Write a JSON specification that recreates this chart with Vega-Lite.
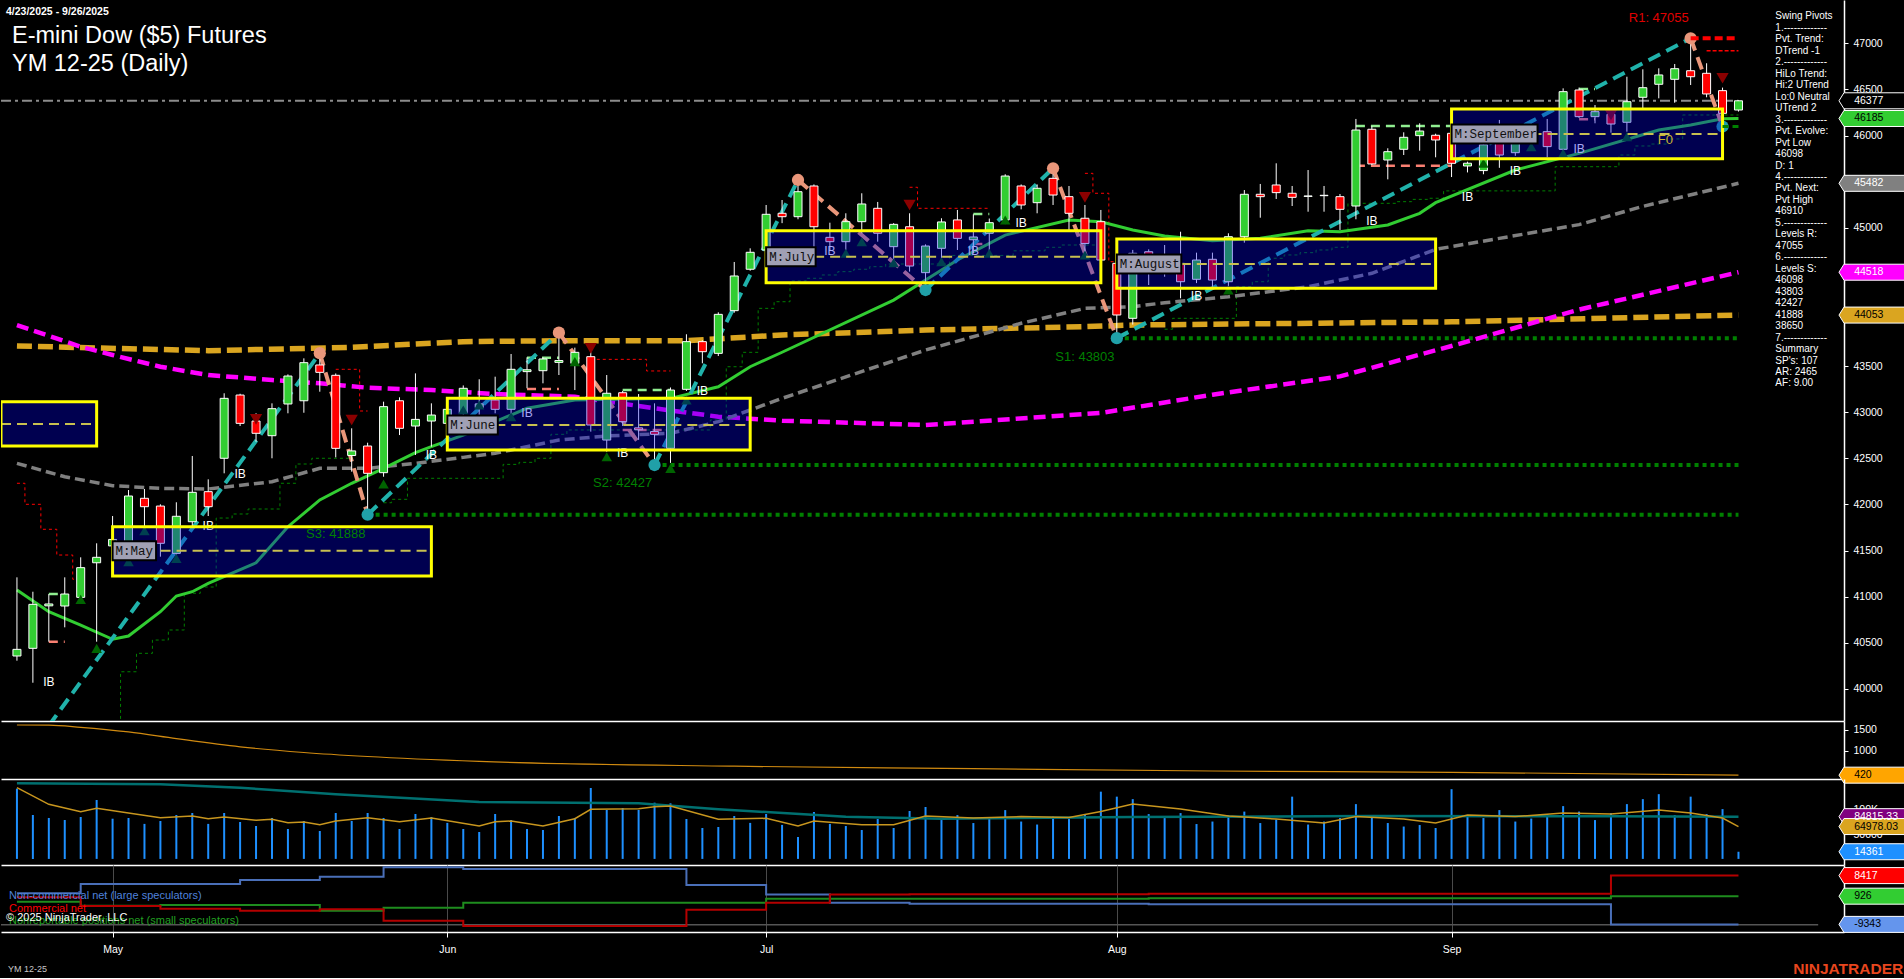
{
"$schema": "https://vega.github.io/schema/vega-lite/v6.json",
"background": "#000000",
"padding": 0,
"spacing": 0,
"bounds": "flush",
"resolve": {"scale": {"color": "independent", "fill": "independent", "shape": "independent", "stroke": "independent"}},
"config": {
  "view": {"stroke": null},
  "legend": {"disable": true},
  "axis": {"labelFont": "Liberation Sans", "zindex": 0, "grid": false},
  "text": {"font": "Liberation Sans"}
},
"datasets": {
  "candles": [
    {"d":"2025-04-23","o":40356,"h":41209,"l":40305,"c":40428,"v":141000},
    {"d":"2025-04-24","o":40439,"h":41053,"l":40066,"c":40916,"v":88200},
    {"d":"2025-04-25","o":40900,"h":41028,"l":40511,"c":40920,"v":82200},
    {"d":"2025-04-28","o":40898,"h":41209,"l":40667,"c":41028,"v":78100},
    {"d":"2025-04-29","o":40992,"h":41426,"l":40927,"c":41314,"v":84100},
    {"d":"2025-04-30","o":41367,"h":41578,"l":40511,"c":41426,"v":118300},
    {"d":"2025-05-01","o":41550,"h":41874,"l":41450,"c":41620,"v":80700},
    {"d":"2025-05-02","o":41505,"h":42156,"l":41450,"c":42091,"v":82200},
    {"d":"2025-05-05","o":42066,"h":42167,"l":41758,"c":41975,"v":70300},
    {"d":"2025-05-06","o":41982,"h":42001,"l":41433,"c":41578,"v":76100},
    {"d":"2025-05-07","o":41469,"h":42023,"l":41433,"c":41871,"v":88200},
    {"d":"2025-05-08","o":41812,"h":42525,"l":41758,"c":42131,"v":92200},
    {"d":"2025-05-09","o":42138,"h":42272,"l":41874,"c":41975,"v":70300},
    {"d":"2025-05-12","o":42500,"h":43205,"l":42337,"c":43150,"v":92200},
    {"d":"2025-05-13","o":43186,"h":43200,"l":42850,"c":42879,"v":74100},
    {"d":"2025-05-14","o":42904,"h":42988,"l":42680,"c":42771,"v":66100},
    {"d":"2025-05-15","o":42745,"h":43096,"l":42500,"c":43038,"v":82200},
    {"d":"2025-05-16","o":43089,"h":43410,"l":42988,"c":43392,"v":60000},
    {"d":"2025-05-19","o":43124,"h":43584,"l":42994,"c":43537,"v":76100},
    {"d":"2025-05-20","o":43512,"h":43640,"l":43222,"c":43432,"v":56000},
    {"d":"2025-05-21","o":43400,"h":43420,"l":42510,"c":42608,"v":92200},
    {"d":"2025-05-22","o":42530,"h":42825,"l":42355,"c":42580,"v":76100},
    {"d":"2025-05-23","o":42633,"h":42669,"l":41888,"c":42337,"v":92200},
    {"d":"2025-05-27","o":42344,"h":43114,"l":42300,"c":43060,"v":82200},
    {"d":"2025-05-28","o":43124,"h":43161,"l":42752,"c":42825,"v":60000},
    {"d":"2025-05-29","o":42850,"h":43421,"l":42536,"c":42922,"v":90200},
    {"d":"2025-05-30","o":42904,"h":43096,"l":42626,"c":42969,"v":84100},
    {"d":"2025-06-02","o":42879,"h":43060,"l":42700,"c":43031,"v":72300},
    {"d":"2025-06-03","o":42988,"h":43290,"l":42900,"c":43259,"v":60000},
    {"d":"2025-06-04","o":43050,"h":43357,"l":42950,"c":43090,"v":54000},
    {"d":"2025-06-05","o":43132,"h":43385,"l":42988,"c":43031,"v":90200},
    {"d":"2025-06-06","o":43031,"h":43631,"l":42951,"c":43465,"v":78100},
    {"d":"2025-06-09","o":43440,"h":43595,"l":43259,"c":43460,"v":60000},
    {"d":"2025-06-10","o":43450,"h":43595,"l":43313,"c":43577,"v":58000},
    {"d":"2025-06-11","o":43540,"h":43862,"l":43403,"c":43560,"v":86100},
    {"d":"2025-06-12","o":43530,"h":43700,"l":43240,"c":43649,"v":82200},
    {"d":"2025-06-13","o":43602,"h":43650,"l":42789,"c":42861,"v":142400},
    {"d":"2025-06-16","o":42698,"h":43403,"l":42572,"c":43205,"v":98200},
    {"d":"2025-06-17","o":43211,"h":43230,"l":42850,"c":42897,"v":102200},
    {"d":"2025-06-18","o":42830,"h":43197,"l":42700,"c":42810,"v":98200},
    {"d":"2025-06-20","o":42790,"h":43096,"l":42427,"c":42760,"v":112900},
    {"d":"2025-06-23","o":42608,"h":43268,"l":42450,"c":43240,"v":111600},
    {"d":"2025-06-24","o":43248,"h":43845,"l":43230,"c":43765,"v":80100},
    {"d":"2025-06-25","o":43765,"h":43780,"l":43530,"c":43656,"v":62000},
    {"d":"2025-06-26","o":43638,"h":44083,"l":43609,"c":44061,"v":64100},
    {"d":"2025-06-27","o":44101,"h":44629,"l":44079,"c":44477,"v":86100},
    {"d":"2025-06-30","o":44550,"h":44777,"l":44534,"c":44734,"v":72300},
    {"d":"2025-07-01","o":44759,"h":45247,"l":44700,"c":45146,"v":90200},
    {"d":"2025-07-02","o":45157,"h":45301,"l":45050,"c":45120,"v":68300},
    {"d":"2025-07-03","o":45120,"h":45518,"l":45092,"c":45391,"v":44000},
    {"d":"2025-07-07","o":45453,"h":45470,"l":44740,"c":45011,"v":94200},
    {"d":"2025-07-08","o":44896,"h":45055,"l":44759,"c":44849,"v":70300},
    {"d":"2025-07-09","o":44849,"h":45157,"l":44759,"c":45066,"v":66100},
    {"d":"2025-07-10","o":45066,"h":45374,"l":44940,"c":45258,"v":58000},
    {"d":"2025-07-11","o":45211,"h":45280,"l":44849,"c":44940,"v":80100},
    {"d":"2025-07-14","o":44795,"h":45050,"l":44578,"c":45037,"v":62000},
    {"d":"2025-07-15","o":45011,"h":45157,"l":44524,"c":44585,"v":96200},
    {"d":"2025-07-16","o":44513,"h":44820,"l":44325,"c":44802,"v":104200},
    {"d":"2025-07-17","o":44777,"h":45103,"l":44650,"c":45063,"v":78000},
    {"d":"2025-07-18","o":45085,"h":45193,"l":44759,"c":44885,"v":88000},
    {"d":"2025-07-21","o":44870,"h":45146,"l":44723,"c":44900,"v":72000},
    {"d":"2025-07-22","o":44940,"h":45100,"l":44726,"c":45055,"v":82000},
    {"d":"2025-07-23","o":45085,"h":45580,"l":45040,"c":45561,"v":98000},
    {"d":"2025-07-24","o":45453,"h":45470,"l":45200,"c":45247,"v":75000},
    {"d":"2025-07-25","o":45272,"h":45470,"l":45157,"c":45428,"v":69000},
    {"d":"2025-07-28","o":45536,"h":45645,"l":45247,"c":45355,"v":85000},
    {"d":"2025-07-29","o":45337,"h":45453,"l":44976,"c":45157,"v":80000},
    {"d":"2025-07-30","o":45103,"h":45247,"l":44700,"c":44830,"v":90000},
    {"d":"2025-07-31","o":45066,"h":45193,"l":44550,"c":44650,"v":135000},
    {"d":"2025-08-01","o":44614,"h":44650,"l":43803,"c":44054,"v":125000},
    {"d":"2025-08-04","o":44018,"h":44760,"l":43950,"c":44723,"v":120000},
    {"d":"2025-08-05","o":44740,"h":44766,"l":44379,"c":44650,"v":90000},
    {"d":"2025-08-06","o":44650,"h":44813,"l":44469,"c":44700,"v":82000},
    {"d":"2025-08-07","o":44614,"h":44957,"l":44235,"c":44415,"v":92000},
    {"d":"2025-08-08","o":44441,"h":44730,"l":44400,"c":44650,"v":70000},
    {"d":"2025-08-11","o":44658,"h":44730,"l":44361,"c":44433,"v":75000},
    {"d":"2025-08-12","o":44415,"h":44940,"l":44361,"c":44903,"v":88000},
    {"d":"2025-08-13","o":44903,"h":45409,"l":44838,"c":45363,"v":95000},
    {"d":"2025-08-14","o":45363,"h":45475,"l":45109,"c":45337,"v":72000},
    {"d":"2025-08-15","o":45464,"h":45699,"l":45312,"c":45381,"v":79000},
    {"d":"2025-08-18","o":45374,"h":45453,"l":45236,"c":45330,"v":125000},
    {"d":"2025-08-19","o":45340,"h":45626,"l":45174,"c":45345,"v":69000},
    {"d":"2025-08-20","o":45348,"h":45453,"l":45174,"c":45352,"v":75000},
    {"d":"2025-08-21","o":45337,"h":45366,"l":44976,"c":45200,"v":82000},
    {"d":"2025-08-22","o":45236,"h":46180,"l":45092,"c":46060,"v":110000},
    {"d":"2025-08-25","o":46068,"h":46100,"l":45680,"c":45692,"v":88000},
    {"d":"2025-08-26","o":45735,"h":45862,"l":45525,"c":45825,"v":72000},
    {"d":"2025-08-27","o":45851,"h":46035,"l":45789,"c":45981,"v":65000},
    {"d":"2025-08-28","o":45999,"h":46133,"l":45836,"c":46049,"v":68000},
    {"d":"2025-08-29","o":46003,"h":46020,"l":45764,"c":45952,"v":62000},
    {"d":"2025-09-02","o":46024,"h":46040,"l":45550,"c":45699,"v":140000},
    {"d":"2025-09-03","o":45670,"h":45717,"l":45600,"c":45700,"v":88000},
    {"d":"2025-09-04","o":45620,"h":45950,"l":45580,"c":45900,"v":82000},
    {"d":"2025-09-05","o":45970,"h":46169,"l":45650,"c":45789,"v":98000},
    {"d":"2025-09-08","o":45814,"h":45980,"l":45780,"c":45952,"v":75000},
    {"d":"2025-09-09","o":45933,"h":46130,"l":45900,"c":46112,"v":81000},
    {"d":"2025-09-10","o":46042,"h":46180,"l":45764,"c":45880,"v":90000},
    {"d":"2025-09-11","o":45851,"h":46512,"l":45830,"c":46476,"v":106000},
    {"d":"2025-09-12","o":46494,"h":46520,"l":46190,"c":46205,"v":95000},
    {"d":"2025-09-15","o":46205,"h":46331,"l":46133,"c":46259,"v":78000},
    {"d":"2025-09-16","o":46230,"h":46290,"l":46031,"c":46125,"v":92000},
    {"d":"2025-09-17","o":46144,"h":46638,"l":46042,"c":46367,"v":110000},
    {"d":"2025-09-18","o":46415,"h":46718,"l":46295,"c":46519,"v":120000},
    {"d":"2025-09-19","o":46556,"h":46729,"l":46404,"c":46657,"v":130000},
    {"d":"2025-09-22","o":46610,"h":46776,"l":46356,"c":46725,"v":88000},
    {"d":"2025-09-23","o":46703,"h":47055,"l":46548,"c":46638,"v":125000},
    {"d":"2025-09-24","o":46675,"h":46784,"l":46415,"c":46451,"v":90000},
    {"d":"2025-09-25","o":46487,"h":46520,"l":46098,"c":46241,"v":100000},
    {"d":"2025-09-26","o":46277,"h":46380,"l":46260,"c":46377,"v":14361}
  ],
  "ma": [
    {"m":"g","d":"2025-04-23","v":41071},{"m":"g","d":"2025-04-25","v":40836},{"m":"g","d":"2025-04-29","v":40692},{"m":"g","d":"2025-05-01","v":40537},{"m":"g","d":"2025-05-02","v":40573},{"m":"g","d":"2025-05-06","v":40836},{"m":"g","d":"2025-05-07","v":41006},{"m":"g","d":"2025-05-08","v":41053},{"m":"g","d":"2025-05-09","v":41144},{"m":"g","d":"2025-05-14","v":41367},{"m":"g","d":"2025-05-16","v":41758},{"m":"g","d":"2025-05-20","v":42048},{"m":"g","d":"2025-05-22","v":42229},{"m":"g","d":"2025-05-27","v":42391},{"m":"g","d":"2025-05-29","v":42561},{"m":"g","d":"2025-05-30","v":42626},{"m":"g","d":"2025-06-03","v":42752},{"m":"g","d":"2025-06-09","v":43042},{"m":"g","d":"2025-06-12","v":43132},{"m":"g","d":"2025-06-23","v":43150},{"m":"g","d":"2025-06-26","v":43276},{"m":"g","d":"2025-06-30","v":43493},{"m":"g","d":"2025-07-02","v":43650},{"m":"g","d":"2025-07-14","v":44216},{"m":"g","d":"2025-07-18","v":44650},{"m":"g","d":"2025-07-23","v":44921},{"m":"g","d":"2025-07-29","v":45084},{"m":"g","d":"2025-07-31","v":45066},{"m":"g","d":"2025-08-04","v":44976},{"m":"g","d":"2025-08-06","v":44911},{"m":"g","d":"2025-08-11","v":44860},{"m":"g","d":"2025-08-14","v":44886},{"m":"g","d":"2025-08-19","v":44968},{"m":"g","d":"2025-08-21","v":44957},{"m":"g","d":"2025-08-26","v":45030},{"m":"g","d":"2025-08-28","v":45157},{"m":"g","d":"2025-08-29","v":45272},{"m":"g","d":"2025-09-08","v":45626},{"m":"g","d":"2025-09-12","v":45807},{"m":"g","d":"2025-09-19","v":46060},{"m":"g","d":"2025-09-23","v":46114},{"m":"g","d":"2025-09-25","v":46183},{"m":"g","d":"2025-09-26","v":46185},
    {"m":"s","d":"2025-04-23","v":42445},{"m":"s","d":"2025-04-28","v":42300},{"m":"s","d":"2025-05-01","v":42203},{"m":"s","d":"2025-05-06","v":42174},{"m":"s","d":"2025-05-09","v":42167},{"m":"s","d":"2025-05-15","v":42246},{"m":"s","d":"2025-05-20","v":42391},{"m":"s","d":"2025-05-23","v":42391},{"m":"s","d":"2025-05-29","v":42445},{"m":"s","d":"2025-06-03","v":42510},{"m":"s","d":"2025-06-05","v":42554},{"m":"s","d":"2025-06-11","v":42698},{"m":"s","d":"2025-06-16","v":42742},{"m":"s","d":"2025-06-23","v":42771},{"m":"s","d":"2025-06-26","v":42897},{"m":"s","d":"2025-07-02","v":43150},{"m":"s","d":"2025-07-16","v":43674},{"m":"s","d":"2025-07-24","v":43964},{"m":"s","d":"2025-07-30","v":44126},{"m":"s","d":"2025-08-04","v":44144},{"m":"s","d":"2025-08-06","v":44187},{"m":"s","d":"2025-08-12","v":44252},{"m":"s","d":"2025-08-19","v":44361},{"m":"s","d":"2025-08-25","v":44506},{"m":"s","d":"2025-08-29","v":44766},{"m":"s","d":"2025-09-12","v":45034},{"m":"s","d":"2025-09-18","v":45232},{"m":"s","d":"2025-09-26","v":45482},
    {"m":"m","d":"2025-04-23","v":43945},{"m":"m","d":"2025-04-29","v":43710},{"m":"m","d":"2025-05-01","v":43620},{"m":"m","d":"2025-05-06","v":43493},{"m":"m","d":"2025-05-09","v":43403},{"m":"m","d":"2025-05-15","v":43349},{"m":"m","d":"2025-05-20","v":43313},{"m":"m","d":"2025-05-23","v":43265},{"m":"m","d":"2025-05-30","v":43240},{"m":"m","d":"2025-06-05","v":43197},{"m":"m","d":"2025-06-12","v":43168},{"m":"m","d":"2025-06-20","v":43042},{"m":"m","d":"2025-06-26","v":42951},{"m":"m","d":"2025-07-02","v":42908},{"m":"m","d":"2025-07-16","v":42861},{"m":"m","d":"2025-07-31","v":42992},{"m":"m","d":"2025-08-11","v":43190},{"m":"m","d":"2025-08-21","v":43388},{"m":"m","d":"2025-09-02","v":43718},{"m":"m","d":"2025-09-12","v":44112},{"m":"m","d":"2025-09-26","v":44518},
    {"m":"o","d":"2025-04-23","v":43718},{"m":"o","d":"2025-05-09","v":43667},{"m":"o","d":"2025-05-22","v":43704},{"m":"o","d":"2025-06-03","v":43765},{"m":"o","d":"2025-06-11","v":43775},{"m":"o","d":"2025-06-24","v":43775},{"m":"o","d":"2025-07-02","v":43837},{"m":"o","d":"2025-07-16","v":43891},{"m":"o","d":"2025-07-30","v":43927},{"m":"o","d":"2025-08-04","v":43945},{"m":"o","d":"2025-09-02","v":43980},{"m":"o","d":"2025-09-26","v":44053}
  ],
  "zig": [
    {"seg":1,"dir":"up","d":"2025-04-25","p":39600},{"seg":1,"dir":"up","d":"2025-05-20","p":43640},
    {"seg":2,"dir":"down","d":"2025-05-20","p":43640},{"seg":2,"dir":"down","d":"2025-05-23","p":41888},
    {"seg":3,"dir":"up","d":"2025-05-23","p":41888},{"seg":3,"dir":"up","d":"2025-06-11","p":43862},
    {"seg":4,"dir":"down","d":"2025-06-11","p":43862},{"seg":4,"dir":"down","d":"2025-06-20","p":42427},
    {"seg":5,"dir":"up","d":"2025-06-20","p":42427},{"seg":5,"dir":"up","d":"2025-07-03","p":45518},
    {"seg":6,"dir":"down","d":"2025-07-03","p":45518},{"seg":6,"dir":"down","d":"2025-07-16","p":44325},
    {"seg":7,"dir":"up","d":"2025-07-16","p":44325},{"seg":7,"dir":"up","d":"2025-07-28","p":45645},
    {"seg":8,"dir":"down","d":"2025-07-28","p":45645},{"seg":8,"dir":"down","d":"2025-08-01","p":43803},
    {"seg":9,"dir":"up","d":"2025-08-01","p":43803},{"seg":9,"dir":"up","d":"2025-09-23","p":47055},
    {"seg":10,"dir":"down","d":"2025-09-23","p":47055},{"seg":10,"dir":"down","d":"2025-09-25","p":46098}
  ],
  "pivots": [
    {"t":"high","d":"2025-05-20","p":43640},{"t":"high","d":"2025-06-11","p":43862},{"t":"high","d":"2025-07-03","p":45518},{"t":"high","d":"2025-07-28","p":45645},{"t":"high","d":"2025-09-23","p":47055},
    {"t":"low","d":"2025-05-23","p":41888},{"t":"low","d":"2025-06-20","p":42427},{"t":"low","d":"2025-07-16","p":44325},{"t":"low","d":"2025-08-01","p":43803},{"t":"low","d":"2025-09-25","p":46098}
  ],
  "tri": [
    {"t":"down","d":"2025-05-14","p":42922},{"t":"down","d":"2025-05-22","p":42915},{"t":"down","d":"2025-06-13","p":43692},{"t":"down","d":"2025-07-15","p":45247},{"t":"down","d":"2025-07-30","p":45330},{"t":"down","d":"2025-09-16","p":46223},{"t":"down","d":"2025-09-25","p":46621},
    {"t":"up","d":"2025-04-29","p":40970},{"t":"up","d":"2025-04-30","p":40439},{"t":"up","d":"2025-05-02","p":41379},{"t":"up","d":"2025-05-05","p":41715},{"t":"up","d":"2025-05-07","p":41415},{"t":"up","d":"2025-05-27","p":42221},{"t":"up","d":"2025-06-03","p":43024},{"t":"up","d":"2025-06-04","p":43078},{"t":"up","d":"2025-06-06","p":42951},{"t":"up","d":"2025-06-12","p":43548},{"t":"up","d":"2025-06-16","p":42517},{"t":"up","d":"2025-06-23","p":42391},{"t":"up","d":"2025-06-24","p":43132},{"t":"up","d":"2025-07-09","p":44723},{"t":"up","d":"2025-07-10","p":44849},{"t":"up","d":"2025-07-14","p":44621},{"t":"up","d":"2025-07-17","p":44632},{"t":"up","d":"2025-07-22","p":44723},{"t":"up","d":"2025-07-23","p":45084},{"t":"up","d":"2025-07-30","p":44705},{"t":"up","d":"2025-08-12","p":44325},{"t":"up","d":"2025-09-04","p":45699},{"t":"up","d":"2025-09-09","p":45879},{"t":"up","d":"2025-09-11","p":45807},{"t":"up","d":"2025-09-17","p":45988}
  ],
  "boxes": [
    {"d":"2025-04-22","d2":"2025-04-30","lo":42633,"hi":43114,"mid":42872,"label":null},
    {"d":"2025-05-01","d2":"2025-05-30","lo":41223,"hi":41758,"mid":41498,"label":"M:May"},
    {"d":"2025-06-02","d2":"2025-06-30","lo":42590,"hi":43150,"mid":42861,"label":"M:June"},
    {"d":"2025-07-01","d2":"2025-07-31","lo":44404,"hi":44968,"mid":44686,"label":"M:July"},
    {"d":"2025-08-01","d2":"2025-08-29","lo":44343,"hi":44878,"mid":44607,"label":"M:August"},
    {"d":"2025-09-02","d2":"2025-09-25","lo":45749,"hi":46288,"mid":46017,"label":"M:September"}
  ],
  "rng": [
    {"d":"2025-04-25","d2":"2025-04-28","hi":41028,"lo":40511},
    {"d":"2025-06-09","d2":"2025-06-11","hi":43591,"lo":43251},
    {"d":"2025-06-17","d2":"2025-06-23","hi":43240,"lo":42807},
    {"d":"2025-07-21","d2":"2025-07-22","hi":45149,"lo":44824},
    {"d":"2025-08-22","d2":"2025-09-02","hi":46104,"lo":45673},
    {"d":"2025-09-12","d2":"2025-09-15","hi":46505,"lo":46176}
  ],
  "steps": [
    {"k":"sup","seg":1,"d":"2025-05-01","p":39500},{"k":"sup","seg":1,"d":"2025-05-02","p":40185},{"k":"sup","seg":1,"d":"2025-05-05","p":40385},{"k":"sup","seg":1,"d":"2025-05-06","p":40529},{"k":"sup","seg":1,"d":"2025-05-07","p":40638},{"k":"sup","seg":1,"d":"2025-05-08","p":41036},{"k":"sup","seg":1,"d":"2025-05-09","p":41104},{"k":"sup","seg":1,"d":"2025-05-12","p":41852},{"k":"sup","seg":1,"d":"2025-05-13","p":41896},{"k":"sup","seg":1,"d":"2025-05-14","p":41950},{"k":"sup","seg":1,"d":"2025-05-15","p":41950},{"k":"sup","seg":1,"d":"2025-05-16","p":42229},{"k":"sup","seg":1,"d":"2025-05-19","p":42438},{"k":"sup","seg":1,"d":"2025-05-20","p":42500},{"k":"sup","seg":1,"d":"2025-05-21","p":42500},{"k":"sup","seg":1,"d":"2025-05-22","p":42500},
    {"k":"sup","seg":2,"d":"2025-05-27","p":42018},{"k":"sup","seg":2,"d":"2025-05-28","p":42055},{"k":"sup","seg":2,"d":"2025-05-29","p":42283},{"k":"sup","seg":2,"d":"2025-06-05","p":42283},{"k":"sup","seg":2,"d":"2025-06-06","p":42434},{"k":"sup","seg":2,"d":"2025-06-09","p":42456},{"k":"sup","seg":2,"d":"2025-06-10","p":42500},{"k":"sup","seg":2,"d":"2025-06-11","p":42760},{"k":"sup","seg":2,"d":"2025-06-12","p":42807},{"k":"sup","seg":2,"d":"2025-06-25","p":42807},{"k":"sup","seg":2,"d":"2025-06-26","p":42915},{"k":"sup","seg":2,"d":"2025-06-27","p":43493},{"k":"sup","seg":2,"d":"2025-06-30","p":43649},{"k":"sup","seg":2,"d":"2025-07-01","p":44126},{"k":"sup","seg":2,"d":"2025-07-02","p":44198},{"k":"sup","seg":2,"d":"2025-07-03","p":44423},{"k":"sup","seg":2,"d":"2025-07-07","p":44452},{"k":"sup","seg":2,"d":"2025-07-08","p":44488},{"k":"sup","seg":2,"d":"2025-07-09","p":44524},{"k":"sup","seg":2,"d":"2025-07-10","p":44550},{"k":"sup","seg":2,"d":"2025-07-11","p":44578},{"k":"sup","seg":2,"d":"2025-07-14","p":44607},{"k":"sup","seg":2,"d":"2025-07-17","p":44607},{"k":"sup","seg":2,"d":"2025-07-18","p":44700},{"k":"sup","seg":2,"d":"2025-07-23","p":44700},{"k":"sup","seg":2,"d":"2025-07-24","p":44750},{"k":"sup","seg":2,"d":"2025-07-25","p":44750},{"k":"sup","seg":2,"d":"2025-07-28","p":44788},{"k":"sup","seg":2,"d":"2025-07-29","p":44813},{"k":"sup","seg":2,"d":"2025-07-31","p":44813},
    {"k":"sup","seg":3,"d":"2025-08-06","p":43900},{"k":"sup","seg":3,"d":"2025-08-07","p":44018},{"k":"sup","seg":3,"d":"2025-08-12","p":44018},{"k":"sup","seg":3,"d":"2025-08-13","p":44361},{"k":"sup","seg":3,"d":"2025-08-14","p":44415},{"k":"sup","seg":3,"d":"2025-08-15","p":44669},{"k":"sup","seg":3,"d":"2025-08-18","p":44705},{"k":"sup","seg":3,"d":"2025-08-19","p":44730},{"k":"sup","seg":3,"d":"2025-08-20","p":44759},{"k":"sup","seg":3,"d":"2025-08-21","p":44788},{"k":"sup","seg":3,"d":"2025-08-22","p":45265},{"k":"sup","seg":3,"d":"2025-08-26","p":45265},{"k":"sup","seg":3,"d":"2025-08-27","p":45283},{"k":"sup","seg":3,"d":"2025-08-28","p":45308},{"k":"sup","seg":3,"d":"2025-08-29","p":45320},{"k":"sup","seg":3,"d":"2025-09-02","p":45400},{"k":"sup","seg":3,"d":"2025-09-10","p":45400},{"k":"sup","seg":3,"d":"2025-09-11","p":45662},{"k":"sup","seg":3,"d":"2025-09-16","p":45662},{"k":"sup","seg":3,"d":"2025-09-17","p":45789},{"k":"sup","seg":3,"d":"2025-09-18","p":45887},{"k":"sup","seg":3,"d":"2025-09-19","p":45908},{"k":"sup","seg":3,"d":"2025-09-22","p":45963},{"k":"sup","seg":3,"d":"2025-09-23","p":46223},{"k":"sup","seg":3,"d":"2025-09-26","p":46223},
    {"k":"res","seg":4,"d":"2025-04-23","p":42229},{"k":"res","seg":4,"d":"2025-04-24","p":42001},{"k":"res","seg":4,"d":"2025-04-25","p":41730},{"k":"res","seg":4,"d":"2025-04-28","p":41451},{"k":"res","seg":4,"d":"2025-04-29","p":41188},
    {"k":"res","seg":5,"d":"2025-05-21","p":43465},{"k":"res","seg":5,"d":"2025-05-22","p":43465},{"k":"res","seg":5,"d":"2025-05-23","p":43013},
    {"k":"res","seg":6,"d":"2025-06-13","p":43573},{"k":"res","seg":6,"d":"2025-06-18","p":43573},{"k":"res","seg":6,"d":"2025-06-20","p":43447},{"k":"res","seg":6,"d":"2025-06-23","p":43447},
    {"k":"res","seg":7,"d":"2025-07-15","p":45439},{"k":"res","seg":7,"d":"2025-07-16","p":45211},{"k":"res","seg":7,"d":"2025-07-22","p":45211},
    {"k":"res","seg":8,"d":"2025-07-30","p":45590},{"k":"res","seg":8,"d":"2025-07-31","p":45374},{"k":"res","seg":8,"d":"2025-08-01","p":44632}
  ],
  "levels": [
    {"k":"S","d":"2025-08-01","d2":"2025-09-26","p":43803},
    {"k":"S","d":"2025-06-20","d2":"2025-09-26","p":42427},
    {"k":"S","d":"2025-05-23","d2":"2025-09-26","p":41888},
    {"k":"R1","d":"2025-09-23","d2":"2025-09-26","p":47055},
    {"k":"Rn","d":"2025-09-24","d2":"2025-09-26","p":46920},
    {"k":"Pl","d":"2025-09-25","d2":"2025-09-26","p":46098}
  ],
  "levelText": [
    {"k":"S","d":"2025-07-30","p":43598,"t":"S1: 43803"},
    {"k":"S","d":"2025-06-17","p":42232,"t":"S2: 42427"},
    {"k":"S","d":"2025-05-21","p":41675,"t":"S3: 41888"},
    {"k":"R","d":"2025-09-19","p":47275,"t":"R1: 47055"}
  ],
  "ib": [
    {"d":"2025-04-25","p":40069},{"d":"2025-05-09","p":41765},{"d":"2025-05-13","p":42334},{"d":"2025-05-30","p":42531},{"d":"2025-06-09","p":42992},{"d":"2025-06-17","p":42558},{"d":"2025-06-25","p":43230},{"d":"2025-07-08","p":44744},{"d":"2025-07-21","p":44744},{"d":"2025-07-24","p":45047},{"d":"2025-08-08","p":44257},{"d":"2025-08-25","p":45073},{"d":"2025-09-03","p":45337},{"d":"2025-09-08","p":45613},{"d":"2025-09-12","p":45850}
  ],
  "osc": [
    {"d":"2025-04-23","v":1614},{"d":"2025-04-25","v":1612},{"d":"2025-04-29","v":1560},{"d":"2025-05-02","v":1450},{"d":"2025-05-07","v":1290},{"d":"2025-05-13","v":1095},{"d":"2025-05-19","v":960},{"d":"2025-05-23","v":864},{"d":"2025-06-04","v":748},{"d":"2025-06-27","v":633},{"d":"2025-07-21","v":576},{"d":"2025-08-11","v":519},{"d":"2025-09-02","v":488},{"d":"2025-09-26","v":420}
  ],
  "volLines": [
    {"s":"L","d":"2025-04-23","v":151800},{"s":"L","d":"2025-05-06","v":149800},{"s":"L","d":"2025-05-13","v":143000},{"s":"L","d":"2025-05-21","v":129700},{"s":"L","d":"2025-06-04","v":114300},{"s":"L","d":"2025-06-18","v":111600},{"s":"L","d":"2025-06-26","v":99600},{"s":"L","d":"2025-07-09","v":84700},{"s":"L","d":"2025-07-17","v":80700},{"s":"L","d":"2025-08-04","v":84000},{"s":"L","d":"2025-08-25","v":86000},{"s":"L","d":"2025-09-16","v":85500},{"s":"L","d":"2025-09-26","v":84815},
    {"s":"S","d":"2025-04-23","v":143000},{"s":"S","d":"2025-04-25","v":109600},{"s":"S","d":"2025-04-29","v":94800},{"s":"S","d":"2025-04-30","v":101600},{"s":"S","d":"2025-05-06","v":82700},{"s":"S","d":"2025-05-08","v":86100},{"s":"S","d":"2025-05-09","v":80700},{"s":"S","d":"2025-05-12","v":84100},{"s":"S","d":"2025-05-14","v":77500},{"s":"S","d":"2025-05-15","v":79500},{"s":"S","d":"2025-05-16","v":72700},{"s":"S","d":"2025-05-19","v":74100},{"s":"S","d":"2025-05-20","v":68700},{"s":"S","d":"2025-05-21","v":76100},{"s":"S","d":"2025-05-23","v":82700},{"s":"S","d":"2025-05-28","v":74700},{"s":"S","d":"2025-05-30","v":82100},{"s":"S","d":"2025-06-04","v":66100},{"s":"S","d":"2025-06-05","v":74700},{"s":"S","d":"2025-06-06","v":76100},{"s":"S","d":"2025-06-10","v":66100},{"s":"S","d":"2025-06-12","v":80700},{"s":"S","d":"2025-06-13","v":99600},{"s":"S","d":"2025-06-18","v":100800},{"s":"S","d":"2025-06-20","v":104800},{"s":"S","d":"2025-06-23","v":106200},{"s":"S","d":"2025-06-26","v":79500},{"s":"S","d":"2025-07-01","v":81500},{"s":"S","d":"2025-07-03","v":66100},{"s":"S","d":"2025-07-07","v":76100},{"s":"S","d":"2025-07-10","v":68700},{"s":"S","d":"2025-07-14","v":68700},{"s":"S","d":"2025-07-16","v":86100},{"s":"S","d":"2025-07-21","v":82000},{"s":"S","d":"2025-07-24","v":85000},{"s":"S","d":"2025-07-29","v":83000},{"s":"S","d":"2025-07-31","v":95000},{"s":"S","d":"2025-08-04","v":110000},{"s":"S","d":"2025-08-07","v":100000},{"s":"S","d":"2025-08-12","v":86000},{"s":"S","d":"2025-08-15","v":80000},{"s":"S","d":"2025-08-20","v":72000},{"s":"S","d":"2025-08-22","v":85000},{"s":"S","d":"2025-08-27","v":80000},{"s":"S","d":"2025-08-29","v":72000},{"s":"S","d":"2025-09-03","v":88000},{"s":"S","d":"2025-09-08","v":85000},{"s":"S","d":"2025-09-11","v":92000},{"s":"S","d":"2025-09-16","v":90000},{"s":"S","d":"2025-09-19","v":98000},{"s":"S","d":"2025-09-23","v":92000},{"s":"S","d":"2025-09-25","v":82000},{"s":"S","d":"2025-09-26","v":64978}
  ],
  "cot": [
    {"s":"n","d":"2025-04-23","v":1981},{"s":"n","d":"2025-04-29","v":5362},{"s":"n","d":"2025-05-13","v":6817},{"s":"n","d":"2025-05-20","v":8017},{"s":"n","d":"2025-05-27","v":11435},{"s":"n","d":"2025-06-03","v":10817},{"s":"n","d":"2025-06-24","v":5000},{"s":"n","d":"2025-07-01","v":1500},{"s":"n","d":"2025-07-08","v":-1500},{"s":"n","d":"2025-07-15","v":-1800},{"s":"n","d":"2025-08-05","v":-2000},{"s":"n","d":"2025-09-16","v":-9343},{"s":"n","d":"2025-09-26","v":-9343},
    {"s":"c","d":"2025-04-23","v":526},{"s":"c","d":"2025-04-29","v":-2638},{"s":"c","d":"2025-05-06","v":-3619},{"s":"c","d":"2025-05-13","v":-4347},{"s":"c","d":"2025-05-20","v":-3838},{"s":"c","d":"2025-05-27","v":-7983},{"s":"c","d":"2025-06-03","v":-9910},{"s":"c","d":"2025-06-24","v":-4000},{"s":"c","d":"2025-07-01","v":-1500},{"s":"c","d":"2025-07-08","v":1500},{"s":"c","d":"2025-07-15","v":1600},{"s":"c","d":"2025-08-05","v":1800},{"s":"c","d":"2025-09-16","v":8417},{"s":"c","d":"2025-09-26","v":8417},
    {"s":"r","d":"2025-04-23","v":-1074},{"s":"r","d":"2025-04-29","v":-2529},{"s":"r","d":"2025-05-06","v":-2274},{"s":"r","d":"2025-05-20","v":-4347},{"s":"r","d":"2025-05-27","v":-3257},{"s":"r","d":"2025-06-03","v":-1438},{"s":"r","d":"2025-07-01","v":0},{"s":"r","d":"2025-08-05","v":200},{"s":"r","d":"2025-09-16","v":926},{"s":"r","d":"2025-09-26","v":926}
  ]
},
"vconcat": [
{
  "width": 1843, "height": 721,
  "encoding": {"x": {"field": "d", "type": "ordinal", "title": null, "scale": {"type": "point", "padding": 0.81, "align": 0, "domain": ["2025-04-22","2025-04-23","2025-04-24","2025-04-25","2025-04-28","2025-04-29","2025-04-30","2025-05-01","2025-05-02","2025-05-05","2025-05-06","2025-05-07","2025-05-08","2025-05-09","2025-05-12","2025-05-13","2025-05-14","2025-05-15","2025-05-16","2025-05-19","2025-05-20","2025-05-21","2025-05-22","2025-05-23","2025-05-27","2025-05-28","2025-05-29","2025-05-30","2025-06-02","2025-06-03","2025-06-04","2025-06-05","2025-06-06","2025-06-09","2025-06-10","2025-06-11","2025-06-12","2025-06-13","2025-06-16","2025-06-17","2025-06-18","2025-06-20","2025-06-23","2025-06-24","2025-06-25","2025-06-26","2025-06-27","2025-06-30","2025-07-01","2025-07-02","2025-07-03","2025-07-07","2025-07-08","2025-07-09","2025-07-10","2025-07-11","2025-07-14","2025-07-15","2025-07-16","2025-07-17","2025-07-18","2025-07-21","2025-07-22","2025-07-23","2025-07-24","2025-07-25","2025-07-28","2025-07-29","2025-07-30","2025-07-31","2025-08-01","2025-08-04","2025-08-05","2025-08-06","2025-08-07","2025-08-08","2025-08-11","2025-08-12","2025-08-13","2025-08-14","2025-08-15","2025-08-18","2025-08-19","2025-08-20","2025-08-21","2025-08-22","2025-08-25","2025-08-26","2025-08-27","2025-08-28","2025-08-29","2025-09-02","2025-09-03","2025-09-04","2025-09-05","2025-09-08","2025-09-09","2025-09-10","2025-09-11","2025-09-12","2025-09-15","2025-09-16","2025-09-17","2025-09-18","2025-09-19","2025-09-22","2025-09-23","2025-09-24","2025-09-25","2025-09-26","2025-09-29","2025-09-30","2025-10-01","2025-10-02","2025-10-03"]}, "axis": {"orient": "bottom", "domain": true, "domainColor": "#FFFFFF", "domainWidth": 1.5, "ticks": false, "labels": false, "grid": false, "title": null}}},
  "layer": [
    {"data": {"values": [{"d": "2025-04-22", "d2": "2025-09-26", "p": 46377}]},
     "mark": {"type": "rule", "color": "#8C8C8C", "strokeWidth": 2, "strokeDash": [10, 4, 3, 4]},
     "encoding": {"x2": {"field": "d2"}, "y": {"field": "p", "type": "quantitative", "title": null, "scale": {"domain": [39651, 47470], "nice": false, "zero": false},
       "axis": {"orient": "right", "values": [40000, 40500, 41000, 41500, 42000, 42500, 43000, 43500, 45000, 46000, 46500, 47000], "format": "d", "domain": true, "domainColor": "#FFFFFF", "domainWidth": 1.5, "ticks": true, "tickColor": "#FFFFFF", "tickSize": 4, "labelColor": "#FFFFFF", "labelFontSize": 10.5, "labelPadding": 5, "grid": false, "title": null}}}},
    {"data": {"name": "steps"}, "transform": [{"filter": "datum.k == 'sup'"}],
     "mark": {"type": "line", "interpolate": "step", "color": "#008000", "strokeWidth": 1, "strokeDash": [3, 3], "clip": true},
     "encoding": {"detail": {"field": "seg", "type": "nominal"}, "y": {"field": "p", "type": "quantitative", "title": null, "scale": {"domain": [39651, 47470], "nice": false, "zero": false}}}},
    {"data": {"name": "steps"}, "transform": [{"filter": "datum.k == 'res'"}],
     "mark": {"type": "line", "interpolate": "step", "color": "#FF0000", "strokeWidth": 1, "strokeDash": [3, 3], "clip": true},
     "encoding": {"detail": {"field": "seg", "type": "nominal"}, "y": {"field": "p", "type": "quantitative", "title": null, "scale": {"domain": [39651, 47470], "nice": false, "zero": false}}}},
    {"data": {"name": "rng"},
     "mark": {"type": "rule", "color": "#90EE90", "strokeWidth": 2.5, "strokeDash": [9, 6]},
     "encoding": {"x2": {"field": "d2"}, "y": {"field": "hi", "type": "quantitative", "title": null, "scale": {"domain": [39651, 47470], "nice": false, "zero": false}}}},
    {"data": {"name": "rng"},
     "mark": {"type": "rule", "color": "#FA8072", "strokeWidth": 2.5, "strokeDash": [9, 6]},
     "encoding": {"x2": {"field": "d2"}, "y": {"field": "lo", "type": "quantitative", "title": null, "scale": {"domain": [39651, 47470], "nice": false, "zero": false}}}},
    {"data": {"name": "levels"}, "transform": [{"filter": "datum.k == 'S'"}],
     "mark": {"type": "rule", "color": "#008000", "strokeWidth": 4, "strokeDash": [4, 4]},
     "encoding": {"x2": {"field": "d2"}, "y": {"field": "p", "type": "quantitative", "title": null, "scale": {"domain": [39651, 47470], "nice": false, "zero": false}}}},
    {"data": {"name": "ma"}, "transform": [{"filter": "datum.m == 'o'"}],
     "mark": {"type": "line", "color": "#DAA520", "strokeWidth": 5.5, "strokeDash": [15, 6]},
     "encoding": {"y": {"field": "v", "type": "quantitative", "title": null, "scale": {"domain": [39651, 47470], "nice": false, "zero": false}}}},
    {"data": {"name": "ma"}, "transform": [{"filter": "datum.m == 'm'"}],
     "mark": {"type": "line", "color": "#FF00FF", "strokeWidth": 4.5, "strokeDash": [12, 6]},
     "encoding": {"y": {"field": "v", "type": "quantitative", "title": null, "scale": {"domain": [39651, 47470], "nice": false, "zero": false}}}},
    {"data": {"name": "ma"}, "transform": [{"filter": "datum.m == 's'"}],
     "mark": {"type": "line", "color": "#808080", "strokeWidth": 3.5, "strokeDash": [10, 5]},
     "encoding": {"y": {"field": "v", "type": "quantitative", "title": null, "scale": {"domain": [39651, 47470], "nice": false, "zero": false}}}},
    {"data": {"name": "ma"}, "transform": [{"filter": "datum.m == 'g'"}],
     "mark": {"type": "line", "color": "#32CD32", "strokeWidth": 3},
     "encoding": {"y": {"field": "v", "type": "quantitative", "title": null, "scale": {"domain": [39651, 47470], "nice": false, "zero": false}}}},
    {"data": {"name": "zig"}, "transform": [{"filter": "datum.dir == 'up'"}],
     "mark": {"type": "line", "color": "#20B2AA", "strokeWidth": 4, "strokeDash": [13, 7], "clip": true},
     "encoding": {"detail": {"field": "seg", "type": "nominal"}, "y": {"field": "p", "type": "quantitative", "title": null, "scale": {"domain": [39651, 47470], "nice": false, "zero": false}}}},
    {"data": {"name": "zig"}, "transform": [{"filter": "datum.dir == 'down'"}],
     "mark": {"type": "line", "color": "#E9967A", "strokeWidth": 4, "strokeDash": [13, 7], "clip": true},
     "encoding": {"detail": {"field": "seg", "type": "nominal"}, "y": {"field": "p", "type": "quantitative", "title": null, "scale": {"domain": [39651, 47470], "nice": false, "zero": false}}}},
    {"data": {"name": "candles"},
     "mark": {"type": "rule", "color": "#FFFFFF", "strokeWidth": 1},
     "encoding": {"y": {"field": "h", "type": "quantitative", "title": null, "scale": {"domain": [39651, 47470], "nice": false, "zero": false}}, "y2": {"field": "l"}}},
    {"data": {"name": "candles"},
     "mark": {"type": "bar", "size": 8, "stroke": "#FFFFFF", "strokeWidth": 1},
     "encoding": {"y": {"field": "o", "type": "quantitative", "title": null, "scale": {"domain": [39651, 47470], "nice": false, "zero": false}}, "y2": {"field": "c"},
       "fill": {"condition": {"test": "datum.c >= datum.o", "value": "#32CD32"}, "value": "#FF0000"}}},
    {"data": {"name": "tri"}, "transform": [{"filter": "datum.t == 'down'"}],
     "mark": {"type": "point", "shape": "triangle-down", "filled": true, "color": "#8B0000", "size": 150, "opacity": 1},
     "encoding": {"y": {"field": "p", "type": "quantitative", "title": null, "scale": {"domain": [39651, 47470], "nice": false, "zero": false}}}},
    {"data": {"name": "tri"}, "transform": [{"filter": "datum.t == 'up'"}],
     "mark": {"type": "point", "shape": "triangle-up", "filled": true, "color": "#006400", "size": 110, "opacity": 1},
     "encoding": {"y": {"field": "p", "type": "quantitative", "title": null, "scale": {"domain": [39651, 47470], "nice": false, "zero": false}}}},
    {"data": {"name": "pivots"}, "transform": [{"filter": "datum.t == 'high'"}],
     "mark": {"type": "circle", "color": "#E9967A", "size": 150, "opacity": 1},
     "encoding": {"y": {"field": "p", "type": "quantitative", "title": null, "scale": {"domain": [39651, 47470], "nice": false, "zero": false}}}},
    {"data": {"name": "pivots"}, "transform": [{"filter": "datum.t == 'low'"}],
     "mark": {"type": "circle", "color": "#20A0A8", "size": 150, "opacity": 1},
     "encoding": {"y": {"field": "p", "type": "quantitative", "title": null, "scale": {"domain": [39651, 47470], "nice": false, "zero": false}}}},
    {"data": {"name": "ib"},
     "mark": {"type": "text", "text": "IB", "color": "#FFFFFF", "fontSize": 12, "baseline": "middle", "align": "center"},
     "encoding": {"y": {"field": "p", "type": "quantitative", "title": null, "scale": {"domain": [39651, 47470], "nice": false, "zero": false}}}},
    {"data": {"name": "boxes"},
     "mark": {"type": "rect", "color": "#0000E6", "opacity": 0.35, "clip": true},
     "encoding": {"x2": {"field": "d2"}, "y": {"field": "lo", "type": "quantitative", "title": null, "scale": {"domain": [39651, 47470], "nice": false, "zero": false}}, "y2": {"field": "hi"}}},
    {"data": {"name": "boxes"},
     "mark": {"type": "rule", "color": "#C8C050", "strokeWidth": 2, "strokeDash": [10, 6], "clip": true},
     "encoding": {"x2": {"field": "d2"}, "y": {"field": "mid", "type": "quantitative", "title": null, "scale": {"domain": [39651, 47470], "nice": false, "zero": false}}}},
    {"data": {"name": "boxes"},
     "mark": {"type": "rect", "filled": false, "stroke": "#FFFF00", "strokeWidth": 3, "clip": true},
     "encoding": {"x2": {"field": "d2"}, "y": {"field": "lo", "type": "quantitative", "title": null, "scale": {"domain": [39651, 47470], "nice": false, "zero": false}}, "y2": {"field": "hi"}}},
    {"data": {"name": "boxes"}, "transform": [{"filter": "datum.label != null"}],
     "mark": {"type": "point", "filled": true, "fill": "#A0A0B4", "stroke": "#000000", "strokeWidth": 2, "size": 400, "opacity": 1},
     "encoding": {"y": {"field": "mid", "type": "quantitative", "title": null, "scale": {"domain": [39651, 47470], "nice": false, "zero": false}},
       "shape": {"field": "label", "type": "nominal", "scale": {"domain": ["M:May", "M:June", "M:July", "M:August", "M:September"], "range": ["M0,-0.95L4.35,-0.95L4.35,0.95L0,0.95Z", "M0,-0.95L5.05,-0.95L5.05,0.95L0,0.95Z", "M0,-0.95L4.95,-0.95L4.95,0.95L0,0.95Z", "M0,-0.95L6.45,-0.95L6.45,0.95L0,0.95Z", "M0,-0.95L8.6,-0.95L8.6,0.95L0,0.95Z"]}}}},
    {"data": {"name": "boxes"}, "transform": [{"filter": "datum.label != null"}],
     "mark": {"type": "text", "font": "Liberation Mono", "fontSize": 12.5, "color": "#101010", "align": "left", "baseline": "middle", "dx": 3},
     "encoding": {"y": {"field": "mid", "type": "quantitative", "title": null, "scale": {"domain": [39651, 47470], "nice": false, "zero": false}}, "text": {"field": "label"}}},
    {"data": {"name": "levels"}, "transform": [{"filter": "datum.k == 'R1'"}],
     "mark": {"type": "rule", "color": "#FF0000", "strokeWidth": 4, "strokeDash": [8, 4]},
     "encoding": {"x2": {"field": "d2"}, "y": {"field": "p", "type": "quantitative", "title": null, "scale": {"domain": [39651, 47470], "nice": false, "zero": false}}}},
    {"data": {"name": "levels"}, "transform": [{"filter": "datum.k == 'Rn'"}],
     "mark": {"type": "rule", "color": "#FF0000", "strokeWidth": 1.5, "strokeDash": [4, 2]},
     "encoding": {"x2": {"field": "d2"}, "y": {"field": "p", "type": "quantitative", "title": null, "scale": {"domain": [39651, 47470], "nice": false, "zero": false}}}},
    {"data": {"name": "levels"}, "transform": [{"filter": "datum.k == 'Pl'"}],
     "mark": {"type": "rule", "color": "#008000", "strokeWidth": 3, "strokeDash": [6, 4]},
     "encoding": {"x2": {"field": "d2"}, "y": {"field": "p", "type": "quantitative", "title": null, "scale": {"domain": [39651, 47470], "nice": false, "zero": false}}}},
    {"data": {"name": "levelText"}, "transform": [{"filter": "datum.k == 'S'"}],
     "mark": {"type": "text", "color": "#008000", "fontSize": 13, "align": "center", "baseline": "middle"},
     "encoding": {"y": {"field": "p", "type": "quantitative", "title": null, "scale": {"domain": [39651, 47470], "nice": false, "zero": false}}, "text": {"field": "t"}}},
    {"data": {"name": "levelText"}, "transform": [{"filter": "datum.k == 'R'"}],
     "mark": {"type": "text", "color": "#E00000", "fontSize": 13, "align": "center", "baseline": "middle"},
     "encoding": {"y": {"field": "p", "type": "quantitative", "title": null, "scale": {"domain": [39651, 47470], "nice": false, "zero": false}}, "text": {"field": "t"}}},
    {"data": {"values": [{"t": "F0"}]},
     "mark": {"type": "text", "color": "#C8B432", "fontSize": 13, "align": "left", "baseline": "middle", "dx": -1},
     "encoding": {"x": {"datum": "2025-09-19", "type": "ordinal", "title": null}, "y": {"datum": 45952, "type": "quantitative", "title": null, "scale": {"domain": [39651, 47470], "nice": false, "zero": false}}, "text": {"field": "t"}}},
    {"data": {"values": [{"t": "4/23/2025 - 9/26/2025"}]},
     "mark": {"type": "text", "color": "#FFFFFF", "fontSize": 10.5, "fontWeight": "bold", "align": "left", "baseline": "middle", "dx": 5},
     "encoding": {"x": {"datum": "2025-04-22", "type": "ordinal", "title": null}, "y": {"datum": 47337, "type": "quantitative", "title": null, "scale": {"domain": [39651, 47470], "nice": false, "zero": false}}, "text": {"field": "t"}}},
    {"data": {"values": [{"t": "E-mini Dow ($5) Futures"}]},
     "mark": {"type": "text", "color": "#FFFFFF", "fontSize": 23.5, "align": "left", "baseline": "middle", "dx": 11},
     "encoding": {"x": {"datum": "2025-04-22", "type": "ordinal", "title": null}, "y": {"datum": 47075, "type": "quantitative", "title": null, "scale": {"domain": [39651, 47470], "nice": false, "zero": false}}, "text": {"field": "t"}}},
    {"data": {"values": [{"t": "YM 12-25 (Daily)"}]},
     "mark": {"type": "text", "color": "#FFFFFF", "fontSize": 23.5, "align": "left", "baseline": "middle", "dx": 11},
     "encoding": {"x": {"datum": "2025-04-22", "type": "ordinal", "title": null}, "y": {"datum": 46772, "type": "quantitative", "title": null, "scale": {"domain": [39651, 47470], "nice": false, "zero": false}}, "text": {"field": "t"}}},
    {"data": {"values": [{"t": "Swing Pivots\n1.-------------\nPvt. Trend:\nDTrend -1\n2.-------------\nHiLo Trend:\nHi:2 UTrend\nLo:0 Neutral\nUTrend 2\n3.-------------\nPvt. Evolve:\nPvt Low\n46098\nD: 1\n4.-------------\nPvt. Next:\nPvt High\n46910\n5.-------------\nLevels R:\n47055\n6.-------------\nLevels S:\n46098\n43803\n42427\n41888\n38650\n7.-------------\nSummary\nSP's: 107\nAR: 2465\nAF: 9.00"}]},
     "mark": {"type": "text", "color": "#FFFFFF", "fontSize": 10, "align": "left", "baseline": "top", "lineBreak": "\n", "lineHeight": 11.47, "dx": 5},
     "encoding": {"x": {"datum": "2025-09-30", "type": "ordinal", "title": null}, "y": {"datum": 47346, "type": "quantitative", "title": null, "scale": {"domain": [39651, 47470], "nice": false, "zero": false}}, "text": {"field": "t"}}},
    {"data": {"values": [{"n": "last", "v": 46377, "t": "46377"}, {"n": "g", "v": 46185, "t": "46185"}, {"n": "s", "v": 45482, "t": "45482"}, {"n": "m", "v": 44518, "t": "44518"}, {"n": "o", "v": 44053, "t": "44053"}]},
     "mark": {"type": "point", "shape": "M1.04,0L1.29,-0.4L4.34,-0.4L4.34,0.4L1.29,0.4Z", "size": 1600, "filled": true, "opacity": 1, "stroke": "#FFFFFF", "strokeWidth": 1},
     "encoding": {"x": {"datum": "2025-10-03", "type": "ordinal", "title": null}, "y": {"field": "v", "type": "quantitative", "title": null, "scale": {"domain": [39651, 47470], "nice": false, "zero": false}},
       "fill": {"field": "n", "type": "nominal", "scale": {"domain": ["last", "g", "s", "m", "o"], "range": ["#000000", "#32CD32", "#808080", "#FF00FF", "#DAA520"]}}}},
    {"data": {"values": [{"n": "last", "v": 46377, "t": "46377"}, {"n": "g", "v": 46185, "t": "46185"}, {"n": "s", "v": 45482, "t": "45482"}, {"n": "m", "v": 44518, "t": "44518"}, {"n": "o", "v": 44053, "t": "44053"}]},
     "mark": {"type": "text", "fontSize": 10.5, "align": "left", "baseline": "middle", "dx": 36},
     "encoding": {"x": {"datum": "2025-10-03", "type": "ordinal", "title": null}, "y": {"field": "v", "type": "quantitative", "title": null, "scale": {"domain": [39651, 47470], "nice": false, "zero": false}}, "text": {"field": "t"},
       "color": {"field": "n", "type": "nominal", "scale": {"domain": ["last", "g", "s", "m", "o"], "range": ["#FFFFFF", "#000000", "#FFFFFF", "#FFFFFF", "#000000"]}}}}
  ]
},
{
  "width": 1843, "height": 58,
  "encoding": {"x": {"field": "d", "type": "ordinal", "title": null, "scale": {"type": "point", "padding": 0.81, "align": 0, "domain": ["2025-04-22","2025-04-23","2025-04-24","2025-04-25","2025-04-28","2025-04-29","2025-04-30","2025-05-01","2025-05-02","2025-05-05","2025-05-06","2025-05-07","2025-05-08","2025-05-09","2025-05-12","2025-05-13","2025-05-14","2025-05-15","2025-05-16","2025-05-19","2025-05-20","2025-05-21","2025-05-22","2025-05-23","2025-05-27","2025-05-28","2025-05-29","2025-05-30","2025-06-02","2025-06-03","2025-06-04","2025-06-05","2025-06-06","2025-06-09","2025-06-10","2025-06-11","2025-06-12","2025-06-13","2025-06-16","2025-06-17","2025-06-18","2025-06-20","2025-06-23","2025-06-24","2025-06-25","2025-06-26","2025-06-27","2025-06-30","2025-07-01","2025-07-02","2025-07-03","2025-07-07","2025-07-08","2025-07-09","2025-07-10","2025-07-11","2025-07-14","2025-07-15","2025-07-16","2025-07-17","2025-07-18","2025-07-21","2025-07-22","2025-07-23","2025-07-24","2025-07-25","2025-07-28","2025-07-29","2025-07-30","2025-07-31","2025-08-01","2025-08-04","2025-08-05","2025-08-06","2025-08-07","2025-08-08","2025-08-11","2025-08-12","2025-08-13","2025-08-14","2025-08-15","2025-08-18","2025-08-19","2025-08-20","2025-08-21","2025-08-22","2025-08-25","2025-08-26","2025-08-27","2025-08-28","2025-08-29","2025-09-02","2025-09-03","2025-09-04","2025-09-05","2025-09-08","2025-09-09","2025-09-10","2025-09-11","2025-09-12","2025-09-15","2025-09-16","2025-09-17","2025-09-18","2025-09-19","2025-09-22","2025-09-23","2025-09-24","2025-09-25","2025-09-26","2025-09-29","2025-09-30","2025-10-01","2025-10-02","2025-10-03"]}, "axis": {"orient": "bottom", "domain": true, "domainColor": "#FFFFFF", "domainWidth": 1.5, "ticks": false, "labels": false, "grid": false, "title": null}}},
  "layer": [
    {"data": {"name": "osc"},
     "mark": {"type": "line", "color": "#D08A10", "strokeWidth": 1.2, "interpolate": "monotone"},
     "encoding": {"y": {"field": "v", "type": "quantitative", "title": null, "scale": {"domain": [328.5, 1709.5], "nice": false, "zero": false},
       "axis": {"orient": "right", "values": [1000, 1500], "format": "d", "domain": true, "domainColor": "#FFFFFF", "domainWidth": 1.5, "ticks": true, "tickColor": "#FFFFFF", "tickSize": 4, "labelColor": "#FFFFFF", "labelFontSize": 10.5, "labelPadding": 5, "grid": false, "title": null}}}},
    {"data": {"values": [{"n": "osc", "v": 420, "t": "420"}]},
     "mark": {"type": "point", "shape": "M1.04,0L1.29,-0.4L4.34,-0.4L4.34,0.4L1.29,0.4Z", "size": 1600, "filled": true, "opacity": 1, "stroke": "#FFFFFF", "strokeWidth": 1, "fill": "#FFA500"},
     "encoding": {"x": {"datum": "2025-10-03", "type": "ordinal", "title": null}, "y": {"field": "v", "type": "quantitative", "title": null, "scale": {"domain": [328.5, 1709.5], "nice": false, "zero": false}}}},
    {"data": {"values": [{"n": "osc", "v": 420, "t": "420"}]},
     "mark": {"type": "text", "fontSize": 10.5, "align": "left", "baseline": "middle", "dx": 36, "color": "#000000"},
     "encoding": {"x": {"datum": "2025-10-03", "type": "ordinal", "title": null}, "y": {"field": "v", "type": "quantitative", "title": null, "scale": {"domain": [328.5, 1709.5], "nice": false, "zero": false}}, "text": {"field": "t"}}}
  ]
},
{
  "width": 1843, "height": 86,
  "encoding": {"x": {"field": "d", "type": "ordinal", "title": null, "scale": {"type": "point", "padding": 0.81, "align": 0, "domain": ["2025-04-22","2025-04-23","2025-04-24","2025-04-25","2025-04-28","2025-04-29","2025-04-30","2025-05-01","2025-05-02","2025-05-05","2025-05-06","2025-05-07","2025-05-08","2025-05-09","2025-05-12","2025-05-13","2025-05-14","2025-05-15","2025-05-16","2025-05-19","2025-05-20","2025-05-21","2025-05-22","2025-05-23","2025-05-27","2025-05-28","2025-05-29","2025-05-30","2025-06-02","2025-06-03","2025-06-04","2025-06-05","2025-06-06","2025-06-09","2025-06-10","2025-06-11","2025-06-12","2025-06-13","2025-06-16","2025-06-17","2025-06-18","2025-06-20","2025-06-23","2025-06-24","2025-06-25","2025-06-26","2025-06-27","2025-06-30","2025-07-01","2025-07-02","2025-07-03","2025-07-07","2025-07-08","2025-07-09","2025-07-10","2025-07-11","2025-07-14","2025-07-15","2025-07-16","2025-07-17","2025-07-18","2025-07-21","2025-07-22","2025-07-23","2025-07-24","2025-07-25","2025-07-28","2025-07-29","2025-07-30","2025-07-31","2025-08-01","2025-08-04","2025-08-05","2025-08-06","2025-08-07","2025-08-08","2025-08-11","2025-08-12","2025-08-13","2025-08-14","2025-08-15","2025-08-18","2025-08-19","2025-08-20","2025-08-21","2025-08-22","2025-08-25","2025-08-26","2025-08-27","2025-08-28","2025-08-29","2025-09-02","2025-09-03","2025-09-04","2025-09-05","2025-09-08","2025-09-09","2025-09-10","2025-09-11","2025-09-12","2025-09-15","2025-09-16","2025-09-17","2025-09-18","2025-09-19","2025-09-22","2025-09-23","2025-09-24","2025-09-25","2025-09-26","2025-09-29","2025-09-30","2025-10-01","2025-10-02","2025-10-03"]}, "axis": {"orient": "bottom", "domain": true, "domainColor": "#FFFFFF", "domainWidth": 1.5, "ticks": false, "labels": false, "grid": false, "title": null}}},
  "layer": [
    {"data": {"name": "candles"},
     "mark": {"type": "bar", "size": 2, "color": "#1E90FF"},
     "encoding": {"y": {"field": "v", "type": "quantitative", "title": null, "scale": {"domain": [-12249, 160442], "nice": false, "zero": false},
       "axis": {"orient": "right", "values": [50000, 100000], "labelExpr": "datum.value == 100000 ? '100K' : datum.value", "domain": true, "domainColor": "#FFFFFF", "domainWidth": 1.5, "ticks": true, "tickColor": "#FFFFFF", "tickSize": 4, "labelColor": "#FFFFFF", "labelFontSize": 10.5, "labelPadding": 5, "grid": false, "title": null}},
       "y2": {"datum": 0}}},
    {"data": {"name": "volLines"}, "transform": [{"filter": "datum.s == 'L'"}],
     "mark": {"type": "line", "color": "#007070", "strokeWidth": 2.5},
     "encoding": {"y": {"field": "v", "type": "quantitative", "title": null, "scale": {"domain": [-12249, 160442], "nice": false, "zero": false}}}},
    {"data": {"name": "volLines"}, "transform": [{"filter": "datum.s == 'S'"}],
     "mark": {"type": "line", "color": "#C8961E", "strokeWidth": 1.5},
     "encoding": {"y": {"field": "v", "type": "quantitative", "title": null, "scale": {"domain": [-12249, 160442], "nice": false, "zero": false}}}},
    {"data": {"values": [{"n": "L", "v": 84815.33, "t": "84815.33"}, {"n": "S", "v": 64978.03, "t": "64978.03"}, {"n": "V", "v": 14361, "t": "14361"}]},
     "mark": {"type": "point", "shape": "M1.04,0L1.29,-0.4L4.34,-0.4L4.34,0.4L1.29,0.4Z", "size": 1600, "filled": true, "opacity": 1, "stroke": "#FFFFFF", "strokeWidth": 1},
     "encoding": {"x": {"datum": "2025-10-03", "type": "ordinal", "title": null}, "y": {"field": "v", "type": "quantitative", "title": null, "scale": {"domain": [-12249, 160442], "nice": false, "zero": false}},
       "fill": {"field": "n", "type": "nominal", "scale": {"domain": ["L", "S", "V"], "range": ["#800080", "#DAA520", "#1E90FF"]}}}},
    {"data": {"values": [{"n": "L", "v": 84815.33, "t": "84815.33"}, {"n": "S", "v": 64978.03, "t": "64978.03"}, {"n": "V", "v": 14361, "t": "14361"}]},
     "mark": {"type": "text", "fontSize": 10.5, "align": "left", "baseline": "middle", "dx": 36},
     "encoding": {"x": {"datum": "2025-10-03", "type": "ordinal", "title": null}, "y": {"field": "v", "type": "quantitative", "title": null, "scale": {"domain": [-12249, 160442], "nice": false, "zero": false}}, "text": {"field": "t"},
       "color": {"field": "n", "type": "nominal", "scale": {"domain": ["L", "S", "V"], "range": ["#FFFFFF", "#000000", "#FFFFFF"]}}}}
  ]
},
{
  "width": 1843, "height": 67,
  "encoding": {"x": {"field": "d", "type": "ordinal", "title": null, "scale": {"type": "point", "padding": 0.81, "align": 0, "domain": ["2025-04-22","2025-04-23","2025-04-24","2025-04-25","2025-04-28","2025-04-29","2025-04-30","2025-05-01","2025-05-02","2025-05-05","2025-05-06","2025-05-07","2025-05-08","2025-05-09","2025-05-12","2025-05-13","2025-05-14","2025-05-15","2025-05-16","2025-05-19","2025-05-20","2025-05-21","2025-05-22","2025-05-23","2025-05-27","2025-05-28","2025-05-29","2025-05-30","2025-06-02","2025-06-03","2025-06-04","2025-06-05","2025-06-06","2025-06-09","2025-06-10","2025-06-11","2025-06-12","2025-06-13","2025-06-16","2025-06-17","2025-06-18","2025-06-20","2025-06-23","2025-06-24","2025-06-25","2025-06-26","2025-06-27","2025-06-30","2025-07-01","2025-07-02","2025-07-03","2025-07-07","2025-07-08","2025-07-09","2025-07-10","2025-07-11","2025-07-14","2025-07-15","2025-07-16","2025-07-17","2025-07-18","2025-07-21","2025-07-22","2025-07-23","2025-07-24","2025-07-25","2025-07-28","2025-07-29","2025-07-30","2025-07-31","2025-08-01","2025-08-04","2025-08-05","2025-08-06","2025-08-07","2025-08-08","2025-08-11","2025-08-12","2025-08-13","2025-08-14","2025-08-15","2025-08-18","2025-08-19","2025-08-20","2025-08-21","2025-08-22","2025-08-25","2025-08-26","2025-08-27","2025-08-28","2025-08-29","2025-09-02","2025-09-03","2025-09-04","2025-09-05","2025-09-08","2025-09-09","2025-09-10","2025-09-11","2025-09-12","2025-09-15","2025-09-16","2025-09-17","2025-09-18","2025-09-19","2025-09-22","2025-09-23","2025-09-24","2025-09-25","2025-09-26","2025-09-29","2025-09-30","2025-10-01","2025-10-02","2025-10-03"]},
    "axis": {"orient": "bottom", "values": ["2025-05-01", "2025-06-02", "2025-07-01", "2025-08-01", "2025-09-02"], "labelExpr": "datum.value == '2025-05-01' ? 'May' : datum.value == '2025-06-02' ? 'Jun' : datum.value == '2025-07-01' ? 'Jul' : datum.value == '2025-08-01' ? 'Aug' : 'Sep'", "labelAngle": 0, "domain": true, "domainColor": "#FFFFFF", "domainWidth": 1.5, "ticks": true, "tickColor": "#FFFFFF", "tickSize": 5, "labels": true, "labelColor": "#FFFFFF", "labelFontSize": 10.5, "labelPadding": 7, "grid": true, "gridColor": "#4A4A4A", "gridWidth": 1, "title": null}}},
  "layer": [
    {"data": {"values": [{"d": "2025-04-22", "d2": "2025-10-03", "v": -9500}]},
     "mark": {"type": "rule", "color": "#555555", "strokeWidth": 1.5},
     "encoding": {"x2": {"field": "d2"}, "y": {"field": "v", "type": "quantitative", "title": null, "scale": {"domain": [-12109, 12274], "nice": false, "zero": false},
       "axis": {"orient": "right", "values": [], "domain": true, "domainColor": "#FFFFFF", "domainWidth": 1.5, "ticks": false, "labels": false, "grid": false, "title": null}}}},
    {"data": {"name": "cot"}, "transform": [{"filter": "datum.s == 'n'"}],
     "mark": {"type": "line", "color": "#4A6FB8", "strokeWidth": 2, "interpolate": "step-after"},
     "encoding": {"y": {"field": "v", "type": "quantitative", "title": null, "scale": {"domain": [-12109, 12274], "nice": false, "zero": false}}}},
    {"data": {"name": "cot"}, "transform": [{"filter": "datum.s == 'r'"}],
     "mark": {"type": "line", "color": "#1E8C1E", "strokeWidth": 2, "interpolate": "step-after"},
     "encoding": {"y": {"field": "v", "type": "quantitative", "title": null, "scale": {"domain": [-12109, 12274], "nice": false, "zero": false}}}},
    {"data": {"name": "cot"}, "transform": [{"filter": "datum.s == 'c'"}],
     "mark": {"type": "line", "color": "#B40000", "strokeWidth": 2, "interpolate": "step-after"},
     "encoding": {"y": {"field": "v", "type": "quantitative", "title": null, "scale": {"domain": [-12109, 12274], "nice": false, "zero": false}}}},
    {"data": {"values": [{"t": "Non-commercial net (large speculators)"}]},
     "mark": {"type": "text", "color": "#4F82DC", "fontSize": 11, "align": "left", "baseline": "middle", "dx": 8},
     "encoding": {"x": {"datum": "2025-04-22", "type": "ordinal", "title": null}, "y": {"datum": 1103, "type": "quantitative", "title": null, "scale": {"domain": [-12109, 12274], "nice": false, "zero": false}}, "text": {"field": "t"}}},
    {"data": {"values": [{"t": "Commercial net"}]},
     "mark": {"type": "text", "color": "#FF0000", "fontSize": 11, "align": "left", "baseline": "middle", "dx": 8},
     "encoding": {"x": {"datum": "2025-04-22", "type": "ordinal", "title": null}, "y": {"datum": -3737, "type": "quantitative", "title": null, "scale": {"domain": [-12109, 12274], "nice": false, "zero": false}}, "text": {"field": "t"}}},
    {"data": {"values": [{"t": "Nonreportable positions net (small speculators)"}]},
     "mark": {"type": "text", "color": "#22A022", "fontSize": 11, "align": "left", "baseline": "middle", "dx": 8},
     "encoding": {"x": {"datum": "2025-04-22", "type": "ordinal", "title": null}, "y": {"datum": -8213, "type": "quantitative", "title": null, "scale": {"domain": [-12109, 12274], "nice": false, "zero": false}}, "text": {"field": "t"}}},
    {"data": {"values": [{"t": "© 2025 NinjaTrader, LLC"}]},
     "mark": {"type": "text", "color": "#FFFFFF", "fontSize": 11, "align": "left", "baseline": "middle", "dx": 5},
     "encoding": {"x": {"datum": "2025-04-22", "type": "ordinal", "title": null}, "y": {"datum": -6903, "type": "quantitative", "title": null, "scale": {"domain": [-12109, 12274], "nice": false, "zero": false}}, "text": {"field": "t"}}},
    {"data": {"values": [{"t": "YM 12-25"}]},
     "mark": {"type": "text", "color": "#C8C8C8", "fontSize": 9, "align": "left", "baseline": "middle", "dx": 7},
     "encoding": {"x": {"datum": "2025-04-22", "type": "ordinal", "title": null}, "y": {"datum": -25571, "type": "quantitative", "title": null, "scale": {"domain": [-12109, 12274], "nice": false, "zero": false}}, "text": {"field": "t"}}},
    {"data": {"values": [{"t": "NINJATRADER"}]},
     "mark": {"type": "text", "color": "#E8461E", "fontSize": 15.5, "fontWeight": "bold", "align": "right", "baseline": "middle", "dx": 85},
     "encoding": {"x": {"datum": "2025-10-03", "type": "ordinal", "title": null}, "y": {"datum": -25462, "type": "quantitative", "title": null, "scale": {"domain": [-12109, 12274], "nice": false, "zero": false}}, "text": {"field": "t"}}},
    {"data": {"values": [{"n": "c", "v": 8417, "t": "8417"}, {"n": "r", "v": 926, "t": "926"}, {"n": "n", "v": -9343, "t": "-9343"}]},
     "mark": {"type": "point", "shape": "M1.04,0L1.29,-0.4L4.34,-0.4L4.34,0.4L1.29,0.4Z", "size": 1600, "filled": true, "opacity": 1, "stroke": "#FFFFFF", "strokeWidth": 1},
     "encoding": {"x": {"datum": "2025-10-03", "type": "ordinal", "title": null}, "y": {"field": "v", "type": "quantitative", "title": null, "scale": {"domain": [-12109, 12274], "nice": false, "zero": false}},
       "fill": {"field": "n", "type": "nominal", "scale": {"domain": ["c", "r", "n"], "range": ["#FF0000", "#32CD32", "#6495ED"]}}}},
    {"data": {"values": [{"n": "c", "v": 8417, "t": "8417"}, {"n": "r", "v": 926, "t": "926"}, {"n": "n", "v": -9343, "t": "-9343"}]},
     "mark": {"type": "text", "fontSize": 10.5, "align": "left", "baseline": "middle", "dx": 36},
     "encoding": {"x": {"datum": "2025-10-03", "type": "ordinal", "title": null}, "y": {"field": "v", "type": "quantitative", "title": null, "scale": {"domain": [-12109, 12274], "nice": false, "zero": false}}, "text": {"field": "t"},
       "color": {"field": "n", "type": "nominal", "scale": {"domain": ["c", "r", "n"], "range": ["#FFFFFF", "#000000", "#000000"]}}}}
  ]
}
]
}
